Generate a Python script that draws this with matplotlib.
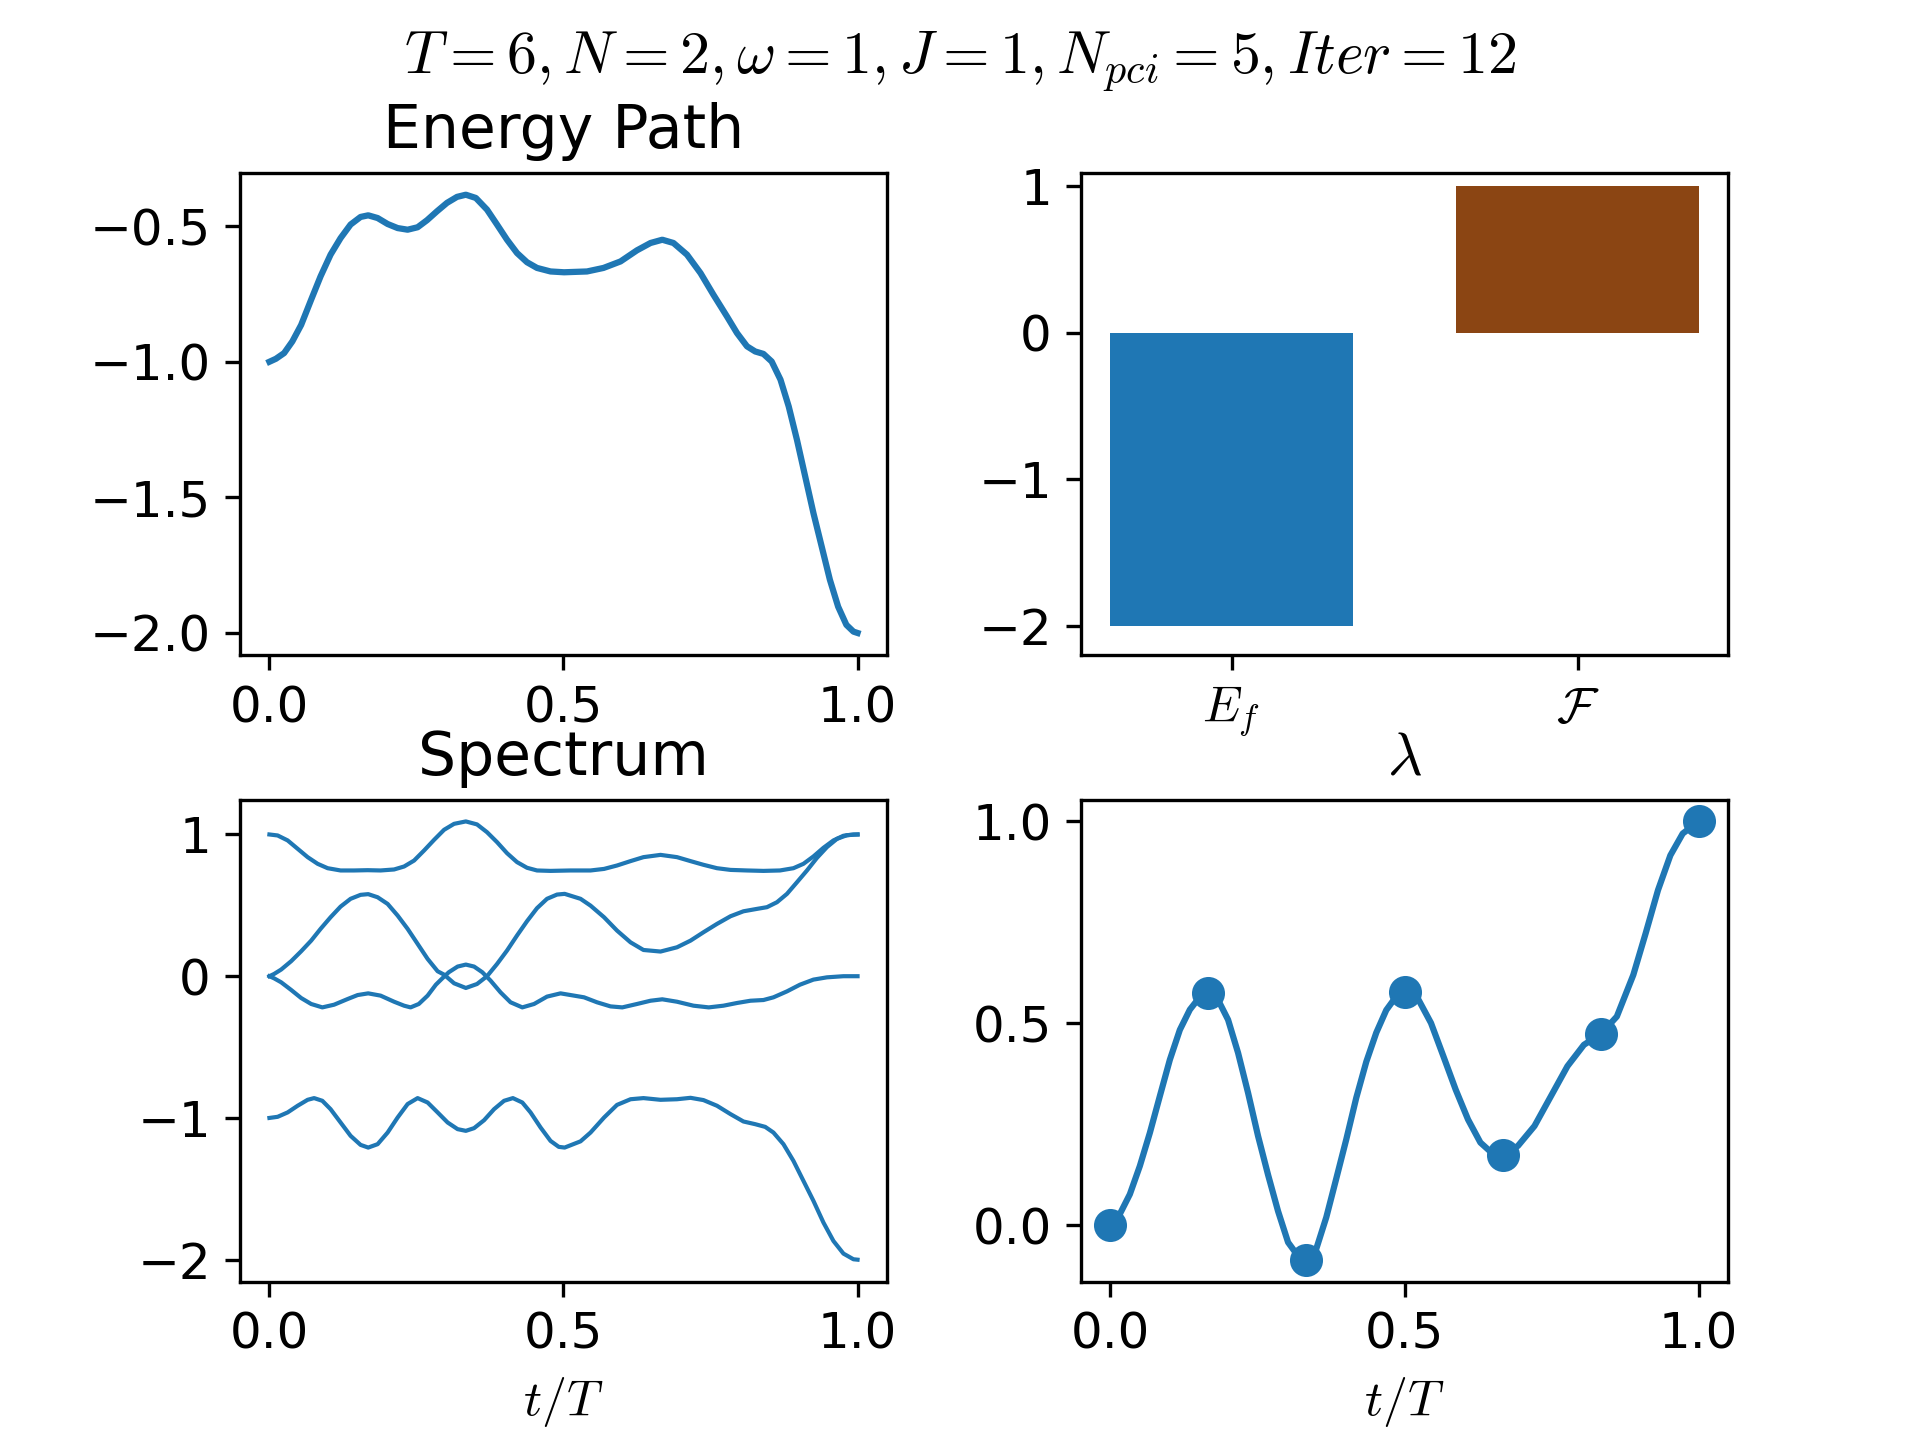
import numpy as np
import matplotlib
matplotlib.use('Agg')
import matplotlib.pyplot as plt

plt.rcParams['mathtext.fontset'] = 'cm'
plt.rcParams['font.size'] = 12

# energy path
t_energy = [0.0, 0.011, 0.025, 0.039, 0.054, 0.071, 0.087, 0.104, 0.121, 0.138,
            0.155, 0.168, 0.184, 0.201, 0.218, 0.235, 0.252, 0.268, 0.285, 0.302,
            0.319, 0.334, 0.351, 0.370, 0.387, 0.404, 0.421, 0.438, 0.455, 0.478,
            0.501, 0.540, 0.568, 0.597, 0.625, 0.648, 0.668, 0.687, 0.710, 0.733,
            0.755, 0.778, 0.795, 0.812, 0.826, 0.840, 0.854, 0.869, 0.883, 0.897,
            0.911, 0.925, 0.939, 0.953, 0.967, 0.981, 0.993, 1.0]
energy = [-1.0, -0.989, -0.968, -0.925, -0.864, -0.771, -0.685, -0.605, -0.544, -0.494,
          -0.466, -0.460, -0.470, -0.492, -0.507, -0.513, -0.504, -0.478, -0.445, -0.414,
          -0.392, -0.384, -0.396, -0.439, -0.494, -0.550, -0.599, -0.633, -0.654, -0.667,
          -0.670, -0.667, -0.654, -0.630, -0.589, -0.562, -0.550, -0.562, -0.605, -0.673,
          -0.753, -0.833, -0.894, -0.943, -0.962, -0.971, -0.999, -1.066, -1.165, -1.288,
          -1.423, -1.558, -1.681, -1.804, -1.903, -1.970, -1.995, -2.0]

# final energy and objective
bar_labels = [r'$E_f$', r'$\mathcal{F}$']
bar_values = [-2.0, 1.0]
bar_colors = ['#1f77b4', '#8B4513']

# spectrum levels
t_lvl1 = [0.0, 0.014, 0.031, 0.048, 0.065, 0.082, 0.099, 0.121, 0.144, 0.167,
          0.189, 0.212, 0.229, 0.246, 0.263, 0.280, 0.297, 0.314, 0.334, 0.353,
          0.370, 0.387, 0.404, 0.421, 0.438, 0.455, 0.478, 0.512, 0.546, 0.569,
          0.591, 0.614, 0.636, 0.665, 0.693, 0.716, 0.738, 0.761, 0.784, 0.812,
          0.840, 0.868, 0.891, 0.908, 0.925, 0.942, 0.959, 0.976, 0.993, 1.0]
lvl1 = [1.0, 0.993, 0.958, 0.899, 0.840, 0.793, 0.762, 0.746, 0.746, 0.748,
        0.746, 0.753, 0.774, 0.816, 0.887, 0.962, 1.033, 1.075, 1.092, 1.071,
        1.016, 0.946, 0.868, 0.805, 0.765, 0.746, 0.743, 0.746, 0.746, 0.757,
        0.781, 0.812, 0.840, 0.856, 0.840, 0.812, 0.786, 0.762, 0.750, 0.746,
        0.743, 0.746, 0.762, 0.793, 0.845, 0.906, 0.958, 0.991, 1.0, 1.0]

t_lvl2 = [0.0, 0.008, 0.020, 0.037, 0.054, 0.071, 0.087, 0.104, 0.121, 0.138,
          0.155, 0.168, 0.184, 0.201, 0.218, 0.235, 0.252, 0.269, 0.286, 0.297,
          0.314, 0.334, 0.353, 0.370, 0.387, 0.404, 0.421, 0.438, 0.455, 0.472,
          0.489, 0.502, 0.529, 0.546, 0.569, 0.591, 0.614, 0.636, 0.665, 0.693,
          0.716, 0.738, 0.761, 0.784, 0.806, 0.829, 0.846, 0.863, 0.880, 0.897,
          0.914, 0.931, 0.948, 0.965, 0.982, 1.0]
lvl2 = [0.0, 0.016, 0.047, 0.106, 0.176, 0.251, 0.334, 0.416, 0.491, 0.546,
        0.574, 0.579, 0.557, 0.510, 0.428, 0.334, 0.228, 0.122, 0.035, 0.011,
        -0.050, -0.083, -0.055, 0.0, 0.086, 0.181, 0.287, 0.388, 0.480, 0.546,
        0.576, 0.581, 0.546, 0.498, 0.416, 0.322, 0.239, 0.185, 0.174, 0.204,
        0.251, 0.310, 0.369, 0.423, 0.458, 0.475, 0.487, 0.522, 0.581, 0.663,
        0.746, 0.835, 0.911, 0.969, 0.995, 1.0]

t_lvl3 = [0.0, 0.008, 0.020, 0.037, 0.054, 0.071, 0.090, 0.110, 0.133, 0.150,
          0.168, 0.189, 0.212, 0.229, 0.240, 0.254, 0.269, 0.283, 0.294, 0.305,
          0.320, 0.334, 0.348, 0.362, 0.376, 0.393, 0.410, 0.430, 0.450, 0.472,
          0.495, 0.535, 0.557, 0.580, 0.600, 0.625, 0.648, 0.668, 0.693, 0.721,
          0.747, 0.772, 0.795, 0.818, 0.840, 0.857, 0.880, 0.902, 0.925, 0.948,
          0.976, 1.0]
lvl3 = [0.0, -0.015, -0.043, -0.097, -0.154, -0.196, -0.220, -0.201, -0.161, -0.133,
        -0.121, -0.137, -0.180, -0.208, -0.220, -0.196, -0.137, -0.060, -0.015, 0.028,
        0.068, 0.082, 0.068, 0.028, -0.031, -0.114, -0.184, -0.220, -0.196, -0.144,
        -0.121, -0.149, -0.184, -0.213, -0.220, -0.196, -0.173, -0.163, -0.180, -0.208,
        -0.220, -0.208, -0.189, -0.173, -0.168, -0.149, -0.107, -0.060, -0.024, -0.008,
        0.0, 0.0]

t_lvl4 = [0.0, 0.014, 0.031, 0.048, 0.065, 0.076, 0.090, 0.104, 0.121, 0.138,
          0.155, 0.168, 0.184, 0.201, 0.218, 0.235, 0.252, 0.269, 0.286, 0.303,
          0.320, 0.334, 0.348, 0.365, 0.382, 0.399, 0.414, 0.430, 0.444, 0.461,
          0.478, 0.492, 0.502, 0.529, 0.546, 0.569, 0.591, 0.614, 0.636, 0.665,
          0.693, 0.716, 0.738, 0.761, 0.784, 0.806, 0.826, 0.843, 0.857, 0.874,
          0.891, 0.908, 0.925, 0.942, 0.959, 0.976, 0.993, 1.0]
lvl4 = [-1.0, -0.992, -0.961, -0.914, -0.872, -0.860, -0.879, -0.938, -1.032, -1.126,
        -1.190, -1.209, -1.185, -1.103, -0.997, -0.902, -0.860, -0.891, -0.961, -1.032,
        -1.079, -1.091, -1.072, -1.016, -0.938, -0.879, -0.860, -0.891, -0.961, -1.067,
        -1.162, -1.204, -1.209, -1.165, -1.103, -0.997, -0.908, -0.868, -0.860, -0.872,
        -0.868, -0.858, -0.874, -0.914, -0.973, -1.025, -1.044, -1.063, -1.103, -1.185,
        -1.303, -1.444, -1.585, -1.738, -1.868, -1.957, -1.997, -2.0]

# lambda control points and the curve through them
t_ctrl = [0.0, 1/6, 2/6, 3/6, 4/6, 5/6, 1.0]
lam_ctrl = [0.0, 0.575, -0.085, 0.577, 0.173, 0.474, 1.0]

t_lam = [0.0, 0.016, 0.033, 0.050, 0.067, 0.084, 0.101, 0.118, 0.135, 0.149,
         0.166, 0.183, 0.200, 0.217, 0.234, 0.251, 0.268, 0.285, 0.302, 0.319,
         0.333, 0.350, 0.367, 0.384, 0.401, 0.418, 0.435, 0.452, 0.469, 0.486,
         0.500, 0.524, 0.545, 0.566, 0.587, 0.608, 0.629, 0.651, 0.668, 0.693,
         0.721, 0.749, 0.777, 0.805, 0.834, 0.861, 0.889, 0.910, 0.931, 0.952,
         0.973, 1.0]
lam = [0.0, 0.028, 0.077, 0.147, 0.229, 0.320, 0.410, 0.484, 0.534, 0.560,
       0.575, 0.558, 0.509, 0.427, 0.328, 0.221, 0.125, 0.035, -0.042, -0.076,
       -0.085, -0.058, 0.020, 0.116, 0.213, 0.316, 0.405, 0.477, 0.533, 0.567,
       0.577, 0.558, 0.501, 0.419, 0.336, 0.262, 0.205, 0.176, 0.173, 0.197,
       0.246, 0.320, 0.394, 0.447, 0.474, 0.517, 0.620, 0.723, 0.830, 0.916,
       0.970, 1.0]

fig, axs = plt.subplots(2, 2, figsize=(6.4, 4.8))
fig.subplots_adjust(wspace=0.3, hspace=0.3)
fig.suptitle(r'$T=6, N=2, \omega=1, J=1, N_{pci}=5, Iter=12$')

ax = axs[0, 0]
ax.plot(t_energy, energy, color='#1f77b4', lw=1.5)
ax.set_title('Energy Path')
ax.set_xticks([0.0, 0.5, 1.0])
ax.set_yticks([-2.0, -1.5, -1.0, -0.5])

ax = axs[0, 1]
ax.bar(range(len(bar_values)), bar_values, width=0.7, color=bar_colors)
ax.set_xticks(range(len(bar_labels)))
ax.set_xticklabels(bar_labels)
ax.set_yticks([-2, -1, 0, 1])
ax.set_ylim(-2.2, 1.09)

ax = axs[1, 0]
for tt, lv in [(t_lvl1, lvl1), (t_lvl2, lvl2), (t_lvl3, lvl3), (t_lvl4, lvl4)]:
    ax.plot(tt, lv, color='#1f77b4', lw=1.0)
ax.set_title('Spectrum')
ax.set_xticks([0.0, 0.5, 1.0])
ax.set_yticks([-2, -1, 0, 1])
ax.set_xlabel(r'$t/T$')

ax = axs[1, 1]
ax.plot(t_lam, lam, color='#1f77b4', lw=1.5)
ax.scatter(t_ctrl, lam_ctrl, s=48, color='#1f77b4', zorder=3)
ax.set_title(r'$\lambda$')
ax.set_xticks([0.0, 0.5, 1.0])
ax.set_yticks([0.0, 0.5, 1.0])
ax.set_xlabel(r'$t/T$')

fig.savefig('out.png', dpi=300)
